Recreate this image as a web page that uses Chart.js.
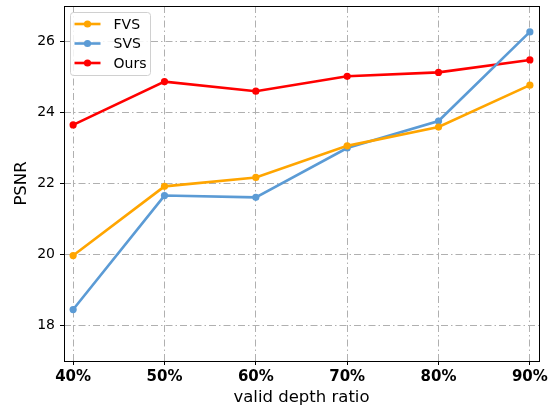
<!DOCTYPE html>
<html>
<head>
<meta charset="utf-8">
<script src="https://cdn.jsdelivr.net/npm/chart.js@4.4.1/dist/chart.umd.min.js"></script>
<style>
  html, body { margin: 0; padding: 0; background: #fff; }
  #wrap { width: 552px; height: 408px; }
</style>
</head>
<body>
<div id="wrap"><canvas id="c" width="552" height="408"></canvas></div>
<script>
// Valid depth ratio (%) along the x axis
const ratios = [40, 50, 60, 70, 80, 90];
// PSNR per method
const fvs  = [19.97, 21.92, 22.17, 23.06, 23.59, 24.77];
const svs  = [18.45, 21.66, 21.61, 23.00, 23.76, 26.27];
const ours = [23.65, 24.87, 24.60, 25.02, 25.13, 25.48];
const yTicks = [18, 20, 22, 24, 26];

const FONT = "'DejaVu Sans', sans-serif";
const gridDash = [7, 3, 1.5, 3];

function series(label, values, color) {
  return {
    label: label,
    data: ratios.map((r, i) => ({ x: r, y: values[i] })),
    borderColor: color,
    backgroundColor: color,
    borderWidth: 2.6,
    pointRadius: 3.6,
    pointHoverRadius: 3.6,
    pointBorderWidth: 0,
    tension: 0
  };
}

// Black frame around the plot area
const frame = {
  id: 'frame',
  afterDatasetsDraw(chart) {
    const a = chart.chartArea, ctx = chart.ctx;
    ctx.save();
    ctx.strokeStyle = '#000';
    ctx.lineWidth = 1;
    ctx.strokeRect(Math.round(a.left) + 0.5, Math.round(a.top) + 0.5,
                   Math.round(a.right - a.left), Math.round(a.bottom - a.top));
    ctx.restore();
  }
};

// Legend box in the upper-left corner, line + marker per series
const cornerLegend = {
  id: 'cornerLegend',
  afterDraw(chart) {
    const ctx = chart.ctx;
    const a = chart.chartArea;
    const x0 = a.left + 6.5, y0 = a.top + 6.5, w = 80, h = 63;
    ctx.save();
    ctx.beginPath();
    ctx.roundRect(x0, y0, w, h, 3);
    ctx.fillStyle = 'rgba(255,255,255,0.85)';
    ctx.fill();
    ctx.strokeStyle = '#d0d0d0';
    ctx.lineWidth = 1;
    ctx.stroke();
    ctx.font = '14px ' + FONT;
    ctx.textBaseline = 'middle';
    chart.data.datasets.forEach((ds, i) => {
      const cy = y0 + 11.5 + i * 19.5;
      ctx.strokeStyle = ds.borderColor;
      ctx.lineWidth = 2.6;
      ctx.beginPath();
      ctx.moveTo(x0 + 4, cy);
      ctx.lineTo(x0 + 30, cy);
      ctx.stroke();
      ctx.fillStyle = ds.borderColor;
      ctx.beginPath();
      ctx.arc(x0 + 17, cy, 3.6, 0, Math.PI * 2);
      ctx.fill();
      ctx.fillStyle = '#000';
      ctx.fillText(ds.label, x0 + 43, cy + 1);
    });
    ctx.restore();
  }
};

const gridOpts = {
  color: '#b0b0b0',
  lineWidth: 1,
  drawTicks: true,
  tickLength: 4,
  tickColor: '#000',
  tickBorderDash: [],
  tickWidth: 1
};

new Chart(document.getElementById('c'), {
  type: 'line',
  data: {
    datasets: [
      series('FVS', fvs, '#FFA500'),
      series('SVS', svs, '#5B9BD5'),
      series('Ours', ours, '#FF0000')
    ]
  },
  options: {
    responsive: false,
    animation: false,
    layout: { padding: { top: 6, right: 13, left: 0, bottom: 0 } },
    plugins: { legend: { display: false }, tooltip: { enabled: false } },
    scales: {
      x: {
        type: 'linear',
        min: 39,
        max: 91,
        afterBuildTicks(s) { s.ticks = ratios.map(v => ({ value: v })); },
        afterFit(s) { s.height = 47; s.paddingLeft = 0; s.paddingRight = 0; },
        border: { display: false, dash: gridDash },
        grid: gridOpts,
        ticks: {
          autoSkip: false,
          maxRotation: 0,
          color: '#000',
          padding: 3,
          font: { family: FONT, size: 15, weight: 'bold' },
          callback: v => v + '%'
        },
        title: {
          display: true,
          text: 'valid depth ratio',
          color: '#000',
          font: { family: FONT, size: 16.5 },
          padding: { top: 0, bottom: 0 }
        }
      },
      y: {
        min: 17,
        max: 27,
        afterBuildTicks(s) { s.ticks = yTicks.map(v => ({ value: v })); },
        afterFit(s) { s.width = 64; s.paddingTop = 0; s.paddingBottom = 0; },
        border: { display: false, dash: gridDash },
        grid: gridOpts,
        ticks: {
          color: '#000',
          padding: 5,
          font: { family: FONT, size: 14 }
        },
        title: {
          display: true,
          text: 'PSNR',
          color: '#000',
          font: { family: FONT, size: 16.5 },
          padding: { top: 12, bottom: 0 }
        }
      }
    }
  },
  plugins: [frame, cornerLegend]
});
</script>
</body>
</html>
